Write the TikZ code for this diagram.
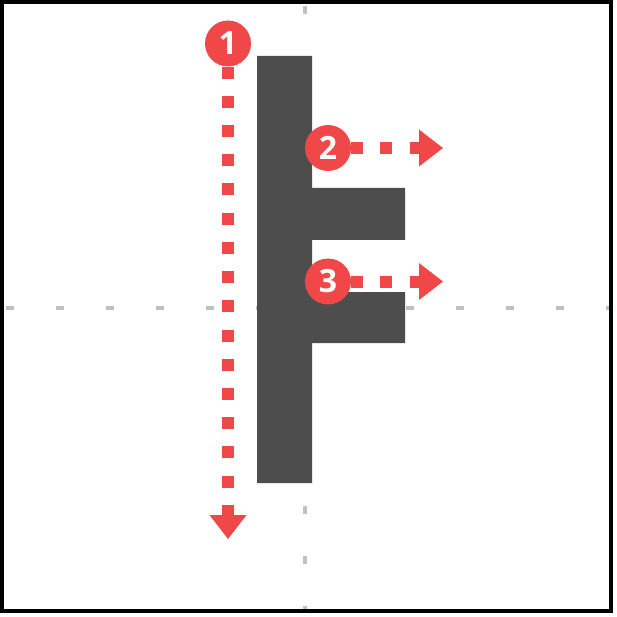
\documentclass[tikz,border=0pt]{standalone}
\usepackage{fontspec}
\setsansfont{Open Sans}
\usepackage{tikz}
\usetikzlibrary{arrows.meta}
\definecolor{stepred}{HTML}{F04848}
\definecolor{glyphgray}{HTML}{4D4D4D}
\definecolor{guidegray}{HTML}{C0C0C0}

\begin{document}
\begin{tikzpicture}[x=1pt, y=-1pt,
    guide/.style={guidegray, line width=4pt, dash pattern=on 8pt off 42pt},
    stepnum/.style={circle, fill=stepred, text=white, inner sep=0pt, minimum size=46pt,
        font=\sffamily\bfseries\fontsize{32}{32}\selectfont},
    steparrow/.style={stepred, line width=12pt, dash pattern=on 12pt off 17.2pt,
        -{Triangle[width=37pt, length=24pt, line width=0pt]}}]
    \useasboundingbox (0,0) rectangle (617,617);
    
    % Draw guide lines
    \draw[guide] (304.5, 6) -- (304.5, 611);
    \draw[guide] (6, 308) -- (611, 308);
    
    % Draw frame
    \draw[line width=4pt] (2, 2) rectangle (611.3, 611.3);
    
    % Draw the glyph
    \fill[glyphgray] (257, 56) -- (312, 56) -- (312, 188) -- (405, 188) -- (405, 240)
        -- (312, 240) -- (312, 292) -- (405, 292) -- (405, 343) -- (312, 343)
        -- (312, 483) -- (257, 483) -- cycle;
    
    % Stroke numbers
    \node[stepnum] (s1) at (228, 43.5) {1};
    \node[stepnum] (s2) at (328, 148) {2};
    \node[stepnum] (s3) at (328, 281.5) {3};
    
    % Stroke directions
    \coordinate (e1) at (228, 539);
    \coordinate (e2) at (443, 148);
    \coordinate (e3) at (443, 281.5);
    \draw[steparrow] (s1) -- (e1);
    \draw[steparrow] (s2) -- (e2);
    \draw[steparrow] (s3) -- (e3);
\end{tikzpicture}
\end{document}
